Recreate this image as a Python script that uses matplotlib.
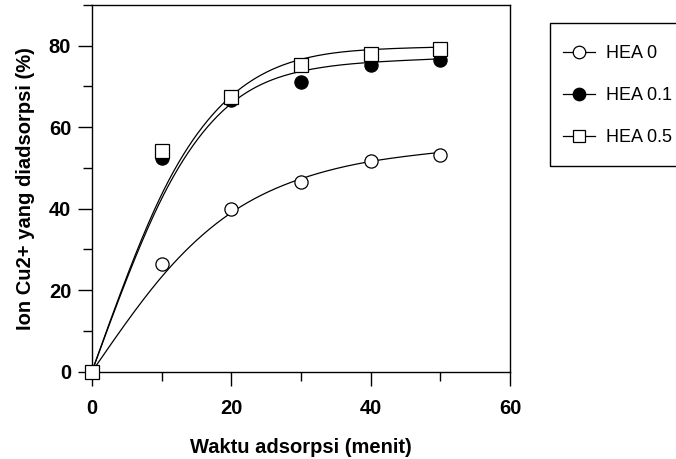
import numpy as np
import matplotlib
matplotlib.use("Agg")
import matplotlib.pyplot as plt
from matplotlib.patches import Rectangle
from matplotlib.ticker import MultipleLocator

plt.rcParams['font.family'] = ['Liberation Sans', 'DejaVu Sans']

# waktu adsorpsi (menit)
waktu = [0, 10, 20, 30, 40, 50]
# ion Cu2+ yang diadsorpsi (%)
hea_0 = [0, 26.5, 39.9, 46.5, 51.8, 53.2]
hea_01 = [0, 52.4, 66.8, 71.2, 75.2, 76.5]
hea_05 = [0, 54.1, 67.4, 75.3, 78.0, 79.3]
labels = ['HEA 0', 'HEA 0.1', 'HEA 0.5']


def smooth_curve(x, y, lam=300.0, h=0.1):
    # penalised (smoothing-spline like) curve on a fine grid
    x = np.asarray(x, float)
    y = np.asarray(y, float)
    xs = np.arange(x.min(), x.max() + h / 2, h)
    n = len(xs)
    A = np.zeros((len(x), n))
    idx = np.rint((x - x.min()) / h).astype(int)
    A[np.arange(len(x)), idx] = 1
    w = np.ones(len(x))
    w[0] = 100.0  # curve starts at the origin
    D = np.diff(np.eye(n), 2, axis=0)
    M = A.T @ (w[:, None] * A) + lam * (D.T @ D) / h ** 3
    f = np.linalg.solve(M, A.T @ (w * y))
    return xs, f


fig = plt.figure(figsize=(6.76, 4.59), dpi=100)
ax = fig.add_axes([92 / 676, 1 - 371.7 / 459, 418 / 676, 366.7 / 459])

series = [hea_0, hea_01, hea_05]
styles = [dict(marker='o', mfc='white'), dict(marker='o', mfc='black'),
          dict(marker='s', mfc='white')]

for ys in series:
    cx, cy = smooth_curve(waktu, ys)
    ax.plot(cx, cy, color='black', lw=0.9, zorder=2)

handles = []
for ys, st, lab in zip(series, styles, labels):
    ax.plot(waktu, ys, ls='none', mec='black', mew=0.9, ms=9.5,
            clip_on=False, zorder=3, **st)
    h, = ax.plot([], [], color='black', lw=0.9, mec='black', mew=0.9,
                 ms=9, label=lab, **st)
    handles.append(h)

ax.set_xlim(0, 60)
ax.set_ylim(0, 90)
ax.xaxis.set_major_locator(MultipleLocator(20))
ax.xaxis.set_minor_locator(MultipleLocator(10))
ax.yaxis.set_minor_locator(MultipleLocator(10))
ax.set_yticks([0, 20, 40, 60, 80])
ax.tick_params(which='major', direction='out', length=10, width=1,
               labelsize=14.5)
ax.tick_params(which='minor', direction='out', length=6.5, width=1)
ax.tick_params(axis='x', which='major', pad=10)
ax.tick_params(axis='y', which='major', pad=5)
for lb in ax.get_xticklabels() + ax.get_yticklabels():
    lb.set_fontweight('bold')
for sp in ax.spines.values():
    sp.set_linewidth(1)

ax.set_xlabel('Waktu adsorpsi (menit)', fontsize=14.5, fontweight='bold',
              labelpad=14)
ax.set_ylabel('Ion Cu2+ yang diadsorpsi (%)', fontsize=14.5,
              fontweight='bold', labelpad=10)

# legend without its own frame, box drawn separately (runs off the right edge)
fig.legend(handles=handles, loc='upper left',
           bbox_to_anchor=(563 / 676, 1 - 45.5 / 459),
           borderaxespad=0, borderpad=0, frameon=False,
           labelspacing=1.37, handlelength=1.75, handletextpad=0.65,
           prop={'size': 13})
fig.patches.append(Rectangle((550 / 676, 1 - 166 / 459), 200 / 676, 143 / 459,
                             transform=fig.transFigure, fill=False,
                             ec='black', lw=1))

fig.savefig('out.png', dpi=100)
